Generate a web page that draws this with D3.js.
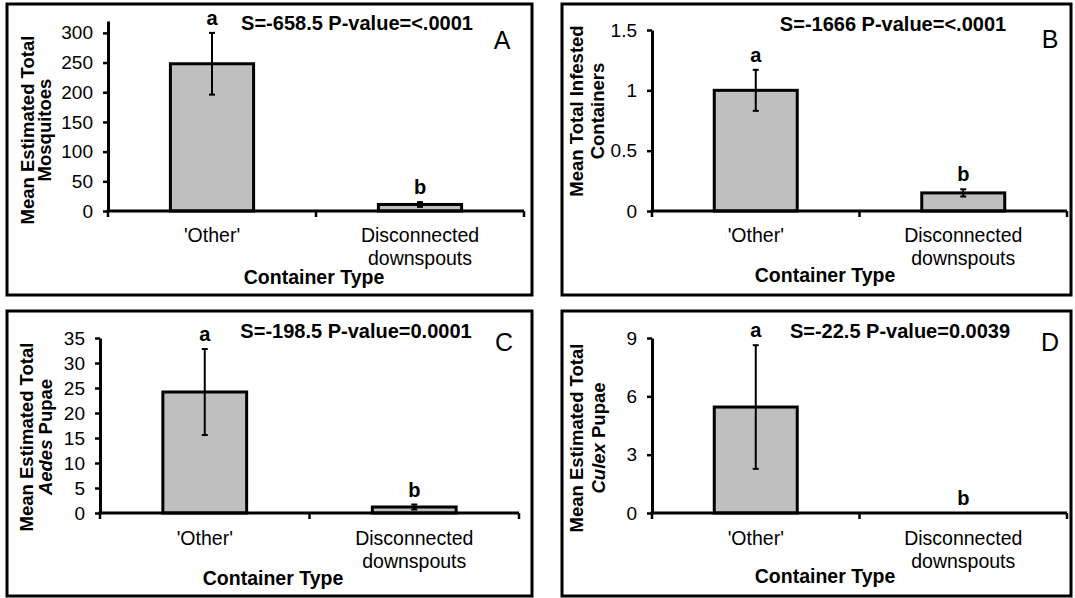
<!DOCTYPE html>
<html>
<head>
<meta charset="utf-8">
<script src="https://cdn.jsdelivr.net/npm/d3@7"></script>
<style>
  body { margin: 0; background: white; }
  text { font-family: Arial, "Liberation Sans", sans-serif; fill: black; }
</style>
</head>
<body>
<div id="chart"></div>
<script>
// data
var categories = ["'Other'", "Disconnected downspouts"];
var panelLetters = ["A", "B", "C", "D"];

var meansA = [248, 11],   seA = [52, 4];
var meansB = [1.0, 0.15], seB = [0.17, 0.03];
var meansC = [24.2, 1.2], seC = [8.6, 0.5];
var meansD = [5.45, 0],   seD = [3.18, 0];

var groupLetters = ["a", "b"];

var statsText = [
  "S=-658.5 P-value=<.0001",
  "S=-1666 P-value=<.0001",
  "S=-198.5 P-value=0.0001",
  "S=-22.5 P-value=0.0039"
];

var ticksA = [0, 50, 100, 150, 200, 250, 300];
var ticksB = [0, 0.5, 1, 1.5];
var ticksC = [0, 5, 10, 15, 20, 25, 30, 35];
var ticksD = [0, 3, 6, 9];
var yMax = [320, 1.5, 35, 9];

var yTitles = [
  [[{t: "Mean Estimated Total"}], [{t: "Mosquitoes"}]],
  [[{t: "Mean Total Infested"}], [{t: "Containers"}]],
  [[{t: "Mean Estimated Total"}], [{t: "Aedes", i: true}, {t: " Pupae"}]],
  [[{t: "Mean Estimated Total"}], [{t: "Culex", i: true}, {t: " Pupae"}]]
];
var xTitle = "Container Type";

// layout of the four panels (page pixels)
var layout = [
  {frame: [7, 4, 532, 295], ax: 108, xEnd: 524, y0: 211, yTop: 21,
   stat: [357, 30], tag: [502, 49], catY: 242, xt: [314, 284], yt: [34, 51, 130]},
  {frame: [562, 4, 1071, 295], ax: 652, xEnd: 1067, y0: 211, yTop: 30,
   stat: [893, 31], tag: [1050, 48], catY: 242, xt: [825, 282], yt: [583, 604, 111]},
  {frame: [7, 311, 532, 596], ax: 100, xEnd: 519, y0: 513, yTop: 338,
   stat: [356, 338], tag: [504, 351], catY: 545, xt: [273, 585], yt: [33, 52, 437]},
  {frame: [562, 311, 1071, 596], ax: 652, xEnd: 1067, y0: 513, yTop: 338,
   stat: [900, 338], tag: [1050, 351], catY: 545, xt: [825, 583], yt: [583, 605, 438]}
];

var means = [meansA, meansB, meansC, meansD];
var ses = [seA, seB, seC, seD];
var ticks = [ticksA, ticksB, ticksC, ticksD];

var svg = d3.select("#chart")
  .append("svg")
    .attr("width", 1075)
    .attr("height", 598)
    .style("background", "white");

layout.forEach(function(L, p) {
  var g = svg.append("g");

  // panel frame
  g.append("rect")
    .attr("x", L.frame[0]).attr("y", L.frame[1])
    .attr("width", L.frame[2] - L.frame[0])
    .attr("height", L.frame[3] - L.frame[1])
    .attr("fill", "none")
    .attr("stroke", "black")
    .attr("stroke-width", 3);

  var x = d3.scaleBand()
    .domain(categories)
    .range([L.ax, L.xEnd])
    .paddingInner(0).paddingOuter(0);

  var y = d3.scaleLinear()
    .domain([0, yMax[p]])
    .range([L.y0, L.yTop]);

  var data = categories.map(function(c, i) {
    return {cat: c, mean: means[p][i], se: ses[p][i], letter: groupLetters[i]};
  });

  var barW = x.bandwidth() * 0.4;

  // bars
  g.selectAll("rect.bar")
    .data(data.filter(function(d) { return d.mean > 0; }))
    .enter()
    .append("rect")
      .attr("class", "bar")
      .attr("x", function(d) { return x(d.cat) + (x.bandwidth() - barW) / 2; })
      .attr("y", function(d) { return y(d.mean); })
      .attr("width", barW)
      .attr("height", function(d) { return y(0) - y(d.mean); })
      .attr("fill", "#bfbfbf")
      .attr("stroke", "black")
      .attr("stroke-width", 3);

  // error bars
  var eb = g.selectAll("g.err")
    .data(data.filter(function(d) { return d.se > 0; }))
    .enter()
    .append("g")
      .attr("class", "err")
      .attr("stroke", "black")
      .attr("stroke-width", 2);
  eb.append("line")
    .attr("x1", function(d) { return x(d.cat) + x.bandwidth() / 2; })
    .attr("x2", function(d) { return x(d.cat) + x.bandwidth() / 2; })
    .attr("y1", function(d) { return y(d.mean + d.se); })
    .attr("y2", function(d) { return y(d.mean - d.se); });
  [1, -1].forEach(function(s) {
    eb.append("line")
      .attr("x1", function(d) { return x(d.cat) + x.bandwidth() / 2 - 3; })
      .attr("x2", function(d) { return x(d.cat) + x.bandwidth() / 2 + 3; })
      .attr("y1", function(d) { return y(d.mean + s * d.se); })
      .attr("y2", function(d) { return y(d.mean + s * d.se); });
  });

  // y axis
  var yAxis = g.append("g")
    .attr("transform", "translate(" + L.ax + ",0)")
    .call(d3.axisLeft(y)
      .tickValues(ticks[p])
      .tickSizeInner(5)
      .tickSizeOuter(0)
      .tickPadding(10)
      .tickFormat(function(d) { return String(d); }));
  yAxis.select(".domain").attr("stroke-width", 3);
  yAxis.selectAll(".tick line").attr("stroke-width", 2.5);
  yAxis.selectAll(".tick text")
    .style("font-size", "19px")
    .style("font-family", "Arial, 'Liberation Sans', sans-serif");

  // x axis with ticks at category boundaries
  g.append("line")
    .attr("x1", L.ax - 1.5).attr("x2", L.xEnd)
    .attr("y1", y(0)).attr("y2", y(0))
    .attr("stroke", "black").attr("stroke-width", 3);
  var bounds = categories.map(function(c) { return x(c); }).concat([x.range()[1]]);
  g.selectAll("line.xtick")
    .data(bounds)
    .enter()
    .append("line")
      .attr("class", "xtick")
      .attr("x1", function(d) { return d; })
      .attr("x2", function(d) { return d; })
      .attr("y1", y(0))
      .attr("y2", y(0) + 6)
      .attr("stroke", "black")
      .attr("stroke-width", 2.5);

  // category labels
  data.forEach(function(d) {
    var words = d.cat === "Disconnected downspouts" ? ["Disconnected", "downspouts"] : [d.cat];
    var t = g.append("text")
      .attr("text-anchor", "middle")
      .style("font-size", "19.5px");
    words.forEach(function(w, k) {
      t.append("tspan")
        .attr("x", x(d.cat) + x.bandwidth() / 2)
        .attr("y", L.catY + k * 23)
        .text(w);
    });
  });

  // significance letters
  g.selectAll("text.grp")
    .data(data)
    .enter()
    .append("text")
      .attr("class", "grp")
      .attr("x", function(d) { return x(d.cat) + x.bandwidth() / 2; })
      .attr("y", function(d) { return y(d.mean + d.se) - 8; })
      .attr("text-anchor", "middle")
      .style("font-size", "20px")
      .style("font-weight", "bold")
      .text(function(d) { return d.letter; });

  // stats and panel tag
  g.append("text")
    .attr("x", L.stat[0]).attr("y", L.stat[1])
    .attr("text-anchor", "middle")
    .style("font-size", "20px")
    .style("font-weight", "bold")
    .text(statsText[p]);
  g.append("text")
    .attr("x", L.tag[0]).attr("y", L.tag[1])
    .attr("text-anchor", "middle")
    .style("font-size", "25px")
    .text(panelLetters[p]);

  // axis titles
  g.append("text")
    .attr("x", L.xt[0]).attr("y", L.xt[1])
    .attr("text-anchor", "middle")
    .style("font-size", "19.5px")
    .style("font-weight", "bold")
    .text(xTitle);

  yTitles[p].forEach(function(line, k) {
    var bx = k === 0 ? L.yt[0] : L.yt[1];
    var t = g.append("text")
      .attr("transform", "translate(" + bx + "," + L.yt[2] + ") rotate(-90)")
      .attr("text-anchor", "middle")
      .style("font-size", "18.5px")
      .style("font-weight", "bold");
    line.forEach(function(part) {
      t.append("tspan")
        .style("font-style", part.i ? "italic" : "normal")
        .text(part.t);
    });
  });
});
</script>
</body>
</html>
